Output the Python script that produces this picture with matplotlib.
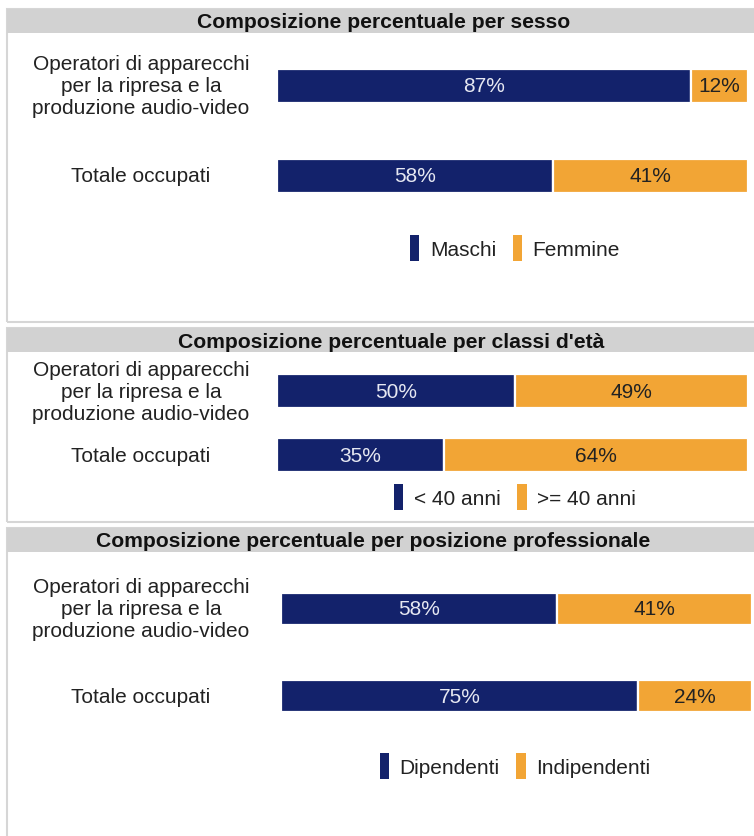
import matplotlib
matplotlib.use("Agg")
import matplotlib.pyplot as plt
import matplotlib.transforms as mtransforms
from matplotlib.patches import Rectangle, Patch

plt.rcParams["font.family"] = ["Liberation Sans", "DejaVu Sans"]

# data
titles = ["Composizione percentuale per sesso",
          "Composizione percentuale per classi d'età",
          "Composizione percentuale per posizione professionale"]
categories = ["Operatori di apparecchi\nper la ripresa e la\nproduzione audio-video",
              "Totale occupati"]
series_names = [["Maschi", "Femmine"],
                ["< 40 anni", ">= 40 anni"],
                ["Dipendenti", "Indipendenti"]]
sesso = [[87, 58], [12, 41]]
eta = [[50, 35], [49, 64]]
posizione = [[58, 75], [41, 24]]
panel_values = [sesso, eta, posizione]

NAVY = "#13226b"
ORANGE = "#f2a535"
GRAY = "#d2d2d2"

W, H = 754, 837
fig = plt.figure(figsize=(W / 100, H / 100), dpi=100)


def fx(px):
    return px / W


def fy(py):
    return 1 - py / H


# layout in pixels: (box top, box bottom, header bottom, title x, axes left,
#                    axes top, axes bottom, bar height, legend y)
layout = [
    (10, 323, 34, 384, 277, 42, 222, 0.38, 249),
    (329, 523, 353, 391, 277, 360, 488, 0.53, 498),
    (529, 845, 553, 373, 281, 566, 741, 0.37, 767),
]

for i, (top, bot, hbot, tx, axl, axt, axb, bh, legy) in enumerate(layout):
    # outer box
    fig.patches.append(Rectangle((fx(7), fy(bot)), fx(760 - 7), fy(top) - fy(bot),
                                 transform=fig.transFigure, fill=False,
                                 edgecolor="#d6d6d6", lw=1.5, zorder=0))
    # header band
    fig.patches.append(Rectangle((fx(7), fy(hbot)), fx(760 - 7), fy(top) - fy(hbot),
                                 transform=fig.transFigure, facecolor=GRAY,
                                 edgecolor="none", zorder=1))
    fig.text(fx(tx), fy((top + hbot) / 2 + 1), titles[i], ha="center", va="center",
             fontsize=15.2, fontweight="bold", color="#111111", zorder=2)

    ax = fig.add_axes([fx(axl), fy(axb), fx(476), fy(axt) - fy(axb)])
    first, second = panel_values[i]
    ypos = list(range(len(categories)))
    ax.barh(ypos, first, height=bh, color=NAVY, edgecolor="white", lw=1.6)
    ax.barh(ypos, second, left=first, height=bh, color=ORANGE,
            edgecolor="white", lw=1.6)
    for j in ypos:
        ax.text(first[j] / 2, j, f"{first[j]}%", ha="center", va="center",
                color="#e6e8f2", fontsize=15)
        ax.text(first[j] + second[j] / 2, j, f"{second[j]}%", ha="center",
                va="center", color="#222222", fontsize=15)
    ax.set_xlim(0, 100)
    ax.set_ylim(len(categories) - 0.5, -0.5)
    ax.axis("off")

    trans = mtransforms.blended_transform_factory(fig.transFigure, ax.transData)
    for j, lab in enumerate(categories):
        ax.text(fx(141), j, lab, transform=trans, ha="center", va="center",
                fontsize=15, color="#222222", linespacing=1.2)

    handles = [Patch(facecolor=NAVY, edgecolor="none", label=series_names[i][0]),
               Patch(facecolor=ORANGE, edgecolor="none", label=series_names[i][1])]
    fig.legend(handles=handles, loc="center", bbox_to_anchor=(fx(515), fy(legy)),
               ncol=2, frameon=False, fontsize=15, handlelength=0.45,
               handleheight=1.5, handletextpad=0.5, columnspacing=0.8,
               labelcolor="#222222")

fig.savefig("out.png", dpi=100)
